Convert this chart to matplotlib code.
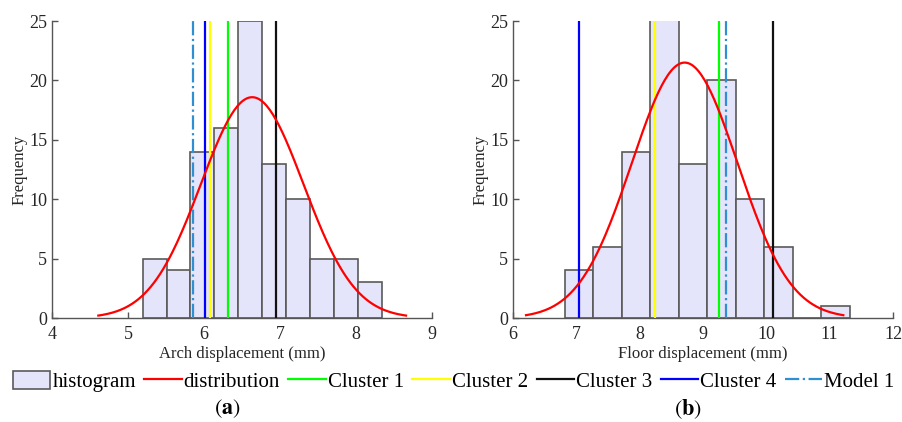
import numpy as np
import matplotlib
matplotlib.use('Agg')
import matplotlib.pyplot as plt
from matplotlib.patches import Patch
from matplotlib.lines import Line2D

plt.rcParams['font.family'] = ['Liberation Serif', 'DejaVu Serif']
plt.rcParams['mathtext.fontset'] = 'stix'

# arch displacement histogram (mm)
arch_start = 5.193
arch_width = 0.3145
arch_counts = [5, 4, 14, 16, 25, 13, 10, 5, 5, 3]
arch_mu, arch_sigma = 6.635, 0.675
arch_lines = [6.32, 6.08, 6.95, 6.02, 5.86]   # cluster 1..4, model 1

# floor displacement histogram (mm)
floor_start = 6.816
floor_width = 0.450
floor_counts = [4, 6, 14, 26, 13, 20, 10, 6, 0, 1]
floor_mu, floor_sigma = 8.711, 0.835
floor_lines = [9.25, 8.24, 10.10, 7.04, 9.36]

line_names = ['Cluster 1', 'Cluster 2', 'Cluster 3', 'Cluster 4', 'Model 1']
line_colors = ['#00ff00', '#ffff00', '#111111', '#0000ff', '#2f8fd0']
line_styles = ['-', '-', '-', '-', '-.']

face = '#e4e4fa'
edge = '#5a5a5a'
grey = '#262626'

fig = plt.figure(figsize=(9.02, 4.22), dpi=100)
ax1 = fig.add_axes([0.0576, 0.2464, 0.4212, 0.7038])
ax2 = fig.add_axes([0.5687, 0.2464, 0.4213, 0.7038])


def panel(ax, start, width, counts, mu, sigma, vlines, xlim, xlabel):
    n = len(counts)
    left = start + width * np.arange(n)
    ax.bar(left, counts, width=width, align='edge', color=face,
           edgecolor=edge, linewidth=1.2, zorder=2)
    for x, c, ls in zip(vlines, line_colors, line_styles):
        ax.axvline(x, color=c, ls=ls, lw=1.6, zorder=3)
    # fitted normal curve scaled to counts
    total = sum(counts)
    xs = np.linspace(mu - 3 * sigma, mu + 3 * sigma, 200)
    ys = total * width * np.exp(-0.5 * ((xs - mu) / sigma) ** 2) / (sigma * np.sqrt(2 * np.pi))
    ax.plot(xs, ys, color='#ff0000', lw=1.6, zorder=4)
    ax.set_xlim(*xlim)
    ax.set_ylim(0, 25)
    ax.set_xticks(range(xlim[0], xlim[1] + 1))
    ax.set_yticks(range(0, 26, 5))
    ax.spines['top'].set_visible(False)
    ax.spines['right'].set_visible(False)
    for s in ['left', 'bottom']:
        ax.spines[s].set_color('#555555')
        ax.spines[s].set_linewidth(1.0)
    ax.tick_params(direction='in', length=4, width=1.0, colors='#555555',
                   labelcolor=grey, labelsize=13)
    ax.tick_params(axis='x', pad=6)
    ax.set_xlabel(xlabel, fontsize=12, color=grey, labelpad=2)
    ax.set_ylabel('Frequency', fontsize=12, color=grey, labelpad=1)


panel(ax1, arch_start, arch_width, arch_counts, arch_mu, arch_sigma,
      arch_lines, (4, 9), 'Arch displacement (mm)')
panel(ax2, floor_start, floor_width, floor_counts, floor_mu, floor_sigma,
      floor_lines, (6, 12), 'Floor displacement (mm)')

handles = [Patch(facecolor=face, edgecolor=edge, linewidth=1.2),
           Line2D([], [], color='#ff0000', lw=1.6)]
handles += [Line2D([], [], color=c, ls=ls, lw=1.6)
            for c, ls in zip(line_colors, line_styles)]
labels = ['histogram', 'distribution'] + line_names
fig.legend(handles, labels, loc='center', bbox_to_anchor=(0.503, 0.095),
           ncol=7, frameon=False, fontsize=15, handlelength=1.8,
           handleheight=0.9, handletextpad=0.1, columnspacing=0.4,
           borderaxespad=0, borderpad=0)

fig.text(0.252, 0.031, r'$(\mathbf{a})$', ha='center', va='center', fontsize=16)
fig.text(0.763, 0.031, r'$(\mathbf{b})$', ha='center', va='center', fontsize=16)

fig.savefig('out.png', dpi=100)
